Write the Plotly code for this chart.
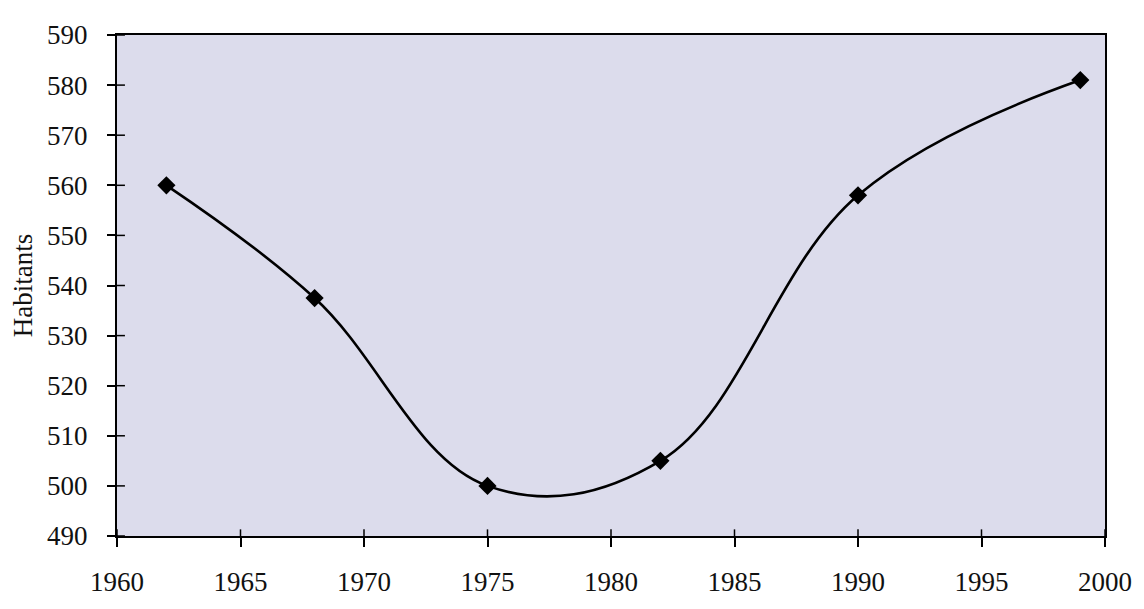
import plotly.graph_objects as go

years = [1962, 1968, 1975, 1982, 1990, 1999]
habitants = [560, 537.5, 500, 505, 558, 581]
x_ticks = [1960, 1965, 1970, 1975, 1980, 1985, 1990, 1995, 2000]
y_ticks = [490, 500, 510, 520, 530, 540, 550, 560, 570, 580, 590]
y_title = "Habitants"

# page body has an 8px default margin; compensate so the plot sits where the reference has it
BODY = 8
W, H = 1144, 609
L, R, T, B = 117, 31, 25, 56
plot_w = W - L - R
plot_h = H - T - B

fig = go.Figure()
fig.add_trace(go.Scatter(
    x=years, y=habitants, mode="lines+markers",
    line=dict(color="black", width=2.6, shape="spline", smoothing=1.1),
    marker=dict(symbol="diamond", size=14, color="black"),
    showlegend=False, hoverinfo="skip",
))

font = dict(family="Liberation Serif, Times New Roman, serif", size=27, color="#111111")

# inner half of the crossing tick marks
shapes = []
for v in y_ticks:
    shapes.append(dict(type="line", xref="paper", yref="y", x0=0, x1=8 / plot_w, y0=v, y1=v,
                       line=dict(color="black", width=1.5)))
for v in x_ticks:
    shapes.append(dict(type="line", xref="x", yref="paper", x0=v, x1=v, y0=0, y1=7 / plot_h,
                       line=dict(color="black", width=1.5)))

fig.update_layout(
    width=W - BODY, height=H - BODY,
    margin=dict(l=L - BODY, r=R, t=T - BODY, b=B),
    paper_bgcolor="white",
    plot_bgcolor="#dcdcec",
    font=font,
    shapes=shapes,
    xaxis=dict(
        range=[1960, 2000], tickvals=x_ticks, ticktext=[str(v) for v in x_ticks],
        showgrid=False, zeroline=False,
        showline=True, linecolor="black", linewidth=2, mirror=True,
        ticks="outside", ticklen=9, tickwidth=1.5, tickcolor="black",
        ticklabelstandoff=12, tickfont=font,
    ),
    yaxis=dict(
        range=[490, 590], tickvals=y_ticks, ticktext=[str(v) for v in y_ticks],
        showgrid=False, zeroline=False,
        showline=True, linecolor="black", linewidth=2, mirror=True,
        ticks="outside", ticklen=8, tickwidth=1.5, tickcolor="black",
        ticklabelstandoff=14, tickfont=font,
    ),
    annotations=[dict(
        text=y_title, xref="paper", yref="paper",
        x=(22 - L) / plot_w, y=0.5, xanchor="center", yanchor="middle",
        textangle=-90, showarrow=False, font=font,
    )],
)

fig.write_html("out.html")
